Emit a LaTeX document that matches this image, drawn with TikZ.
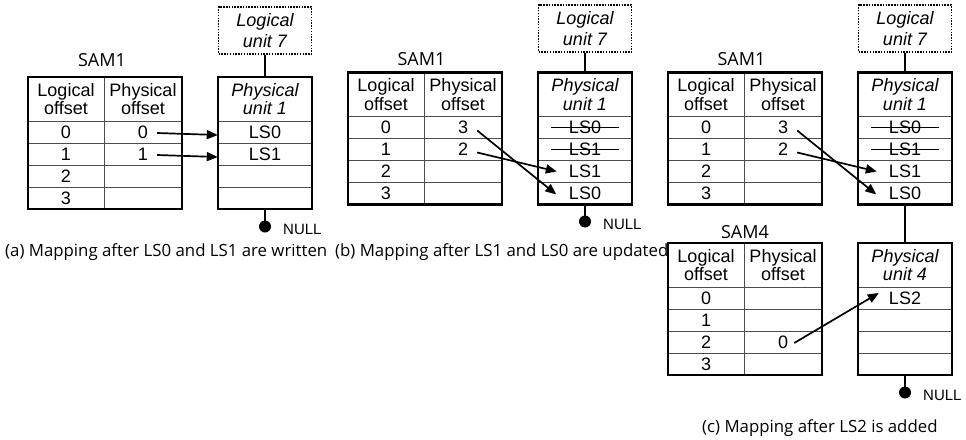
\documentclass[tikz,border=0pt]{standalone}
\usepackage{fontspec}
\setmainfont{Liberation Sans}
\newfontfamily\labelfont{Open Sans}
\usetikzlibrary{arrows.meta}

\tikzset{
  frame/.style={line width=2.2pt},
  gridline/.style={line width=1pt, draw=black!70},
  txt/.style={inner sep=0pt, font=\fontsize{18}{18.5}\selectfont, align=center},
  itxt/.style={txt, font=\fontsize{18}{18.5}\selectfont\itshape},
  rowcell/.style={txt, minimum width=94pt, minimum height=22pt},
  headcell/.style={itxt, minimum width=94pt, minimum height=44pt},
  logbox/.style={draw, line width=1.7pt, dash pattern=on 1.5pt off 1.3pt,
    minimum width=93pt, minimum height=47pt, inner sep=0pt,
    font=\fontsize{18}{20.5}\selectfont\itshape, align=center},
  link/.style={line width=2pt},
  arr/.style={line width=1.7pt, -{Triangle[length=11pt,width=9pt]}},
  strike/.style={line width=1.6pt},
  nulldot/.style={circle, fill=black, inner sep=0pt, minimum size=12pt},
  nulltxt/.style={inner sep=0pt, font=\fontsize{15}{15}\selectfont, anchor=base west},
  samlabel/.style={inner sep=0pt, font=\labelfont\fontsize{18}{18}\selectfont, anchor=base},
  caption/.style={inner sep=0pt, font=\labelfont\fontsize{16.8}{18}\selectfont, anchor=base west},
}

% SAM table: name, x, y, physical offsets of rows 0..3
\newcommand{\SamTable}[7]{%
  \begin{scope}[shift={(#2,#3)}]
    \foreach \r in {0,1,2,3} \draw[gridline] (0,{44+22*\r}) -- (154,{44+22*\r});
    \draw[gridline] (76,0) -- (76,132);
    \draw[frame] (0,0) rectangle (154,132);
    \node[txt] (#1-hl) at (38,22) {Logical\\offset};
    \node[txt] (#1-hp) at (115,22) {Physical\\offset};
    \node[txt] (#1-l0) at (38,55) {0};
    \node[txt] (#1-l1) at (38,77) {1};
    \node[txt] (#1-l2) at (38,99) {2};
    \node[txt] (#1-l3) at (38,121) {3};
    \node[txt] (#1-v0) at (115,55) {#4};
    \node[txt] (#1-v1) at (115,77) {#5};
    \node[txt] (#1-v2) at (115,99) {#6};
    \node[txt] (#1-v3) at (115,121) {#7};
  \end{scope}}

% Physical unit: name, x, y, title, slots 0..3
\newcommand{\PhysUnit}[8]{%
  \begin{scope}[shift={(#2,#3)}]
    \foreach \r in {0,1,2,3} \draw[gridline] (0,{44+22*\r}) -- (94,{44+22*\r});
    \draw[frame] (0,0) rectangle (94,132);
    \node[headcell] (#1-h) at (47,22) {#4};
    \node[rowcell] (#1-r0) at (47,55) {#5};
    \node[rowcell] (#1-r1) at (47,77) {#6};
    \node[rowcell] (#1-r2) at (47,99) {#7};
    \node[rowcell] (#1-r3) at (47,121) {#8};
  \end{scope}}

\begin{document}
\begin{tikzpicture}[x=1pt, y=-1pt]
\useasboundingbox (0,0) rectangle (966,439);

% ---------- (a) ----------
\node[samlabel] (a-title) at (102,66.5) {SAM1};
\SamTable{a}{28}{77}{0}{1}{}{}
\PhysUnit{pa}{218}{77}{Physical\\unit 1}{LS0}{LS1}{}{}
\node[logbox] (a-lu) at (265,30.5) {Logical\\unit 7};
\draw[link] (a-lu.south) -- (pa-h.north);
\node[nulldot] (a-null) at (265,226.5) {};
\draw[link] (pa-r3.south) -- (a-null.center);
\node[nulltxt] (a-nulltxt) at (283,234) {NULL};
\draw[arr] ([shift={(9pt,-1pt)}]a-v0.east) -- ([yshift=-3pt]pa-r0.west);
\draw[arr] ([shift={(9pt,-1pt)}]a-v1.east) -- ([yshift=-3pt]pa-r1.west);
\node[caption] (a-cap) at (5,256) {(a) Mapping after LS0 and LS1 are written};

% ---------- (b) ----------
\node[samlabel] (b-title) at (421.5,65) {SAM1};
\SamTable{b}{348}{72.5}{3}{2}{}{}
\PhysUnit{pb}{538}{72.5}{Physical\\unit 1}{LS0}{LS1}{LS1}{LS0}
\draw[strike] ([xshift=-34pt]pb-r0.center) -- ([xshift=34pt]pb-r0.center);
\draw[strike] ([xshift=-34pt]pb-r1.center) -- ([xshift=34pt]pb-r1.center);
\node[logbox] (b-lu) at (585,28.5) {Logical\\unit 7};
\draw[link] (b-lu.south) -- (pb-h.north);
\node[nulldot] (b-null) at (585,221.5) {};
\draw[link] (pb-r3.south) -- (b-null.center);
\node[nulltxt] (b-nulltxt) at (603,229.5) {NULL};
\draw[arr] ([shift={(9pt,-3pt)}]b-v0.east) -- ([shift={(18.5pt,-1pt)}]pb-r3.west);
\draw[arr] ([shift={(9pt,-3pt)}]b-v1.east) -- ([xshift=19pt]pb-r2.west);
\node[caption] (b-cap) at (335,256) {(b) Mapping after LS1 and LS0 are updated};

% ---------- (c) ----------
\node[samlabel] (c-title) at (741.5,65) {SAM1};
\SamTable{c}{668}{72.5}{3}{2}{}{}
\PhysUnit{pc}{858}{72.5}{Physical\\unit 1}{LS0}{LS1}{LS1}{LS0}
\draw[strike] ([xshift=-34pt]pc-r0.center) -- ([xshift=34pt]pc-r0.center);
\draw[strike] ([xshift=-34pt]pc-r1.center) -- ([xshift=34pt]pc-r1.center);
\node[logbox] (c-lu) at (905,28.5) {Logical\\unit 7};
\draw[link] (c-lu.south) -- (pc-h.north);
\draw[arr] ([shift={(9pt,-3pt)}]c-v0.east) -- ([shift={(18.5pt,-1pt)}]pc-r3.west);
\draw[arr] ([shift={(9pt,-3pt)}]c-v1.east) -- ([xshift=19pt]pc-r2.west);

\node[samlabel] (d-title) at (745,238) {SAM4};
\SamTable{d}{668}{243}{}{}{0}{}
\PhysUnit{pd}{858}{243}{Physical\\unit 4}{LS2}{}{}{}
\draw[link] (pc-r3.south) -- (pd-h.north);
\node[nulldot] (d-null) at (905,392.5) {};
\draw[link] (pd-r3.south) -- (d-null.center);
\node[nulltxt] (d-nulltxt) at (923,400) {NULL};
\draw[arr] ([shift={(6pt,-1pt)}]d-v2.east) -- ([shift={(21pt,5pt)}]pd-r0.west);
\node[caption] (c-cap) at (702,432) {(c) Mapping after LS2 is added};
\end{tikzpicture}
\end{document}
